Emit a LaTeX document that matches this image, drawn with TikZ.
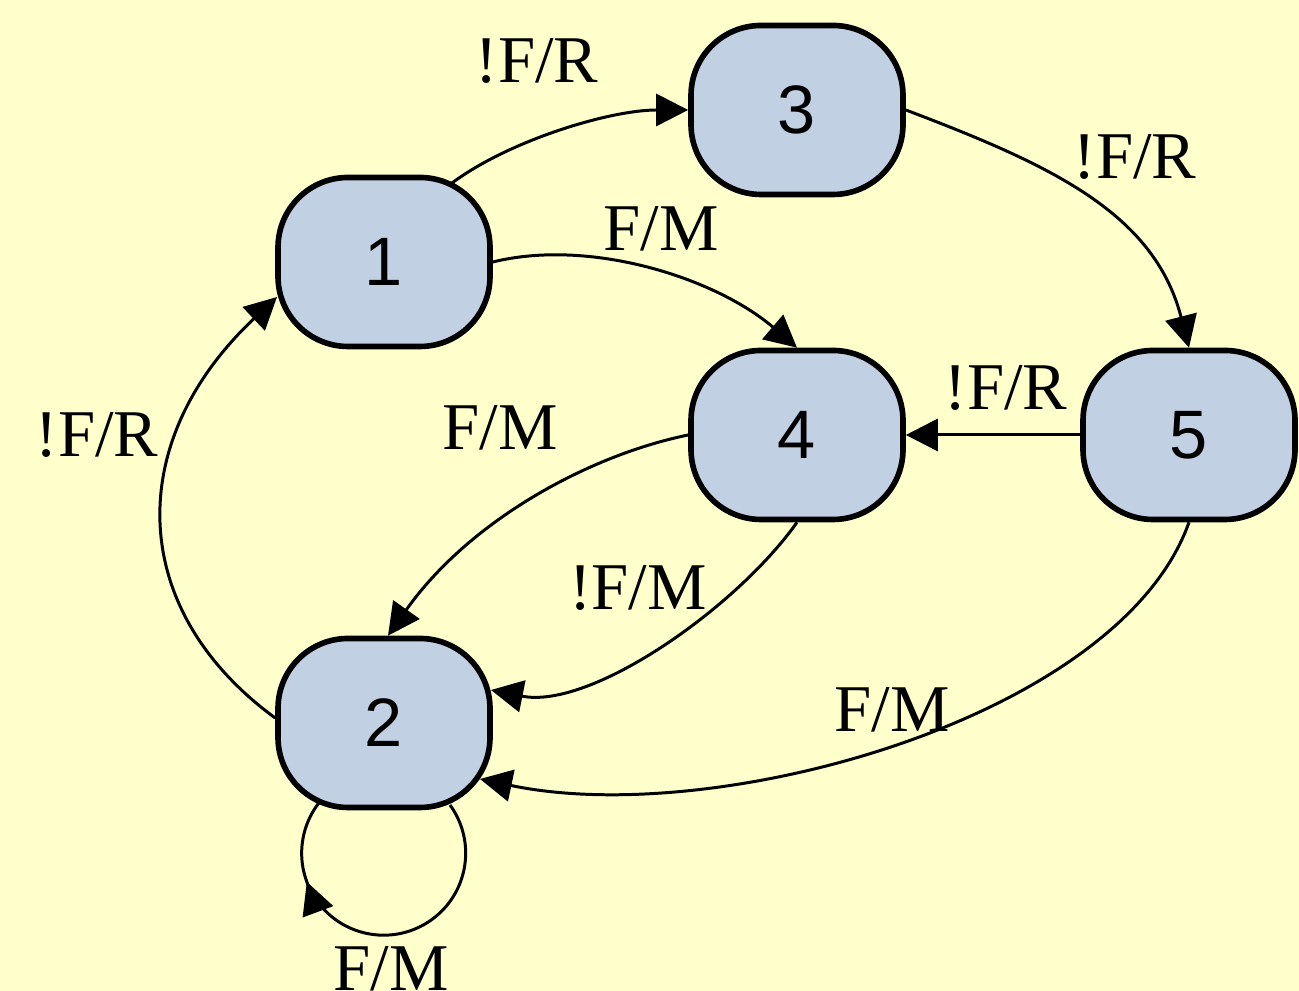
\documentclass[tikz,border=0pt]{standalone}
\usepackage{fontspec}
\setmainfont{Liberation Serif}
\newfontfamily\digitfont{Liberation Sans}
\usetikzlibrary{arrows.meta,calc,decorations.markings}
\pgfdeclarelayer{paperlayer}
\pgfdeclarelayer{edgelayer}
\pgfsetlayers{paperlayer,edgelayer,main}
\definecolor{paper}{RGB}{255,255,204}
\definecolor{statefill}{RGB}{193,208,227}

\begin{document}
\begin{tikzpicture}[
  state/.style={draw=black, line width=1.6pt, fill=statefill, rounded corners=0.7cm,
    minimum width=2.12cm, minimum height=1.69cm, inner sep=0pt,
    font=\digitfont\fontsize{19.5}{19.5}\selectfont},
  tip/.style={-{Triangle[length=0.32cm,width=0.32cm]}},
  trans/.style={line width=0.85pt, tip},
  lbl/.style={font=\fontsize{19}{19}\selectfont, inner sep=0pt}
]
\useasboundingbox (0,0) rectangle (12.99,9.91);
\begin{pgfonlayer}{paperlayer}
  \fill[paper] (0,0) rectangle (12.99,9.91);
\end{pgfonlayer}

% states
\node[state] (s1) at (3.84,7.29) {1};
\node[state] (s3) at (7.97,8.81) {3};
\node[state] (s4) at (7.97,5.56) {4};
\node[state] (s5) at (11.89,5.56) {5};
\node[state] (s2) at (3.84,2.68) {2};

% transitions, kept behind the states
\begin{pgfonlayer}{edgelayer}
  \draw[trans] ($(s1.center)+(0.68,0.79)$) .. controls +(0.58,0.43) and +(-0.78,0) .. (s3.west);
  \draw[trans] (s3.east) .. controls +(1.45,-0.55) and +(-0.35,1.35) .. (s5.north);
  \draw[trans] (s1.east) .. controls +(0.97,0.24) and +(-0.82,0.70) .. (s4.north);
  \draw[trans] (s5.west) -- (s4.east);
  \draw[trans] (s4.west) .. controls +(-0.98,-0.20) and +(0.82,1.16) .. ($(s2.north)+(0.04,0)$);
  \draw[trans] (s4.south) .. controls +(-0.6,-0.85) and +(1.0,-0.2) .. ($(s2.center)+(1.07,0.33)$);
  \draw[trans] (s5.south) .. controls +(-0.69,-1.95) and +(2.38,-0.50) .. ($(s2.center)+(0.96,-0.56)$);
  \draw[trans] ($(s2.west)+(0,0.05)$) .. controls +(-1.5,1.1) and +(-1.52,-1.43) .. ($(s1.center)+(-1.07,-0.35)$);
  \draw[line width=0.85pt, postaction={decorate},
        decoration={markings, mark=at position 0.77 with {\arrow{Triangle[length=0.32cm,width=0.32cm]}}}]
    ($(s2.center)+(0.66,-0.82)$) arc[start angle=36, end angle=-218, radius=0.82];
\end{pgfonlayer}

% transition labels
\node[lbl] (l13) at (5.37,9.30) {!F/R};
\node[lbl] (l35) at (11.35,8.34) {!F/R};
\node[lbl] (l14) at (6.61,7.62) {F/M};
\node[lbl] (l54) at (10.06,6.03) {!F/R};
\node[lbl] (l42a) at (5.00,5.63) {F/M};
\node[lbl] (l42b) at (6.38,4.03) {!F/M};
\node[lbl] (l52) at (8.92,2.81) {F/M};
\node[lbl] (l21) at (0.97,5.56) {!F/R};
\node[lbl, anchor=base] (l22) at (3.91,0.0) {F/M};
\end{tikzpicture}
\end{document}
